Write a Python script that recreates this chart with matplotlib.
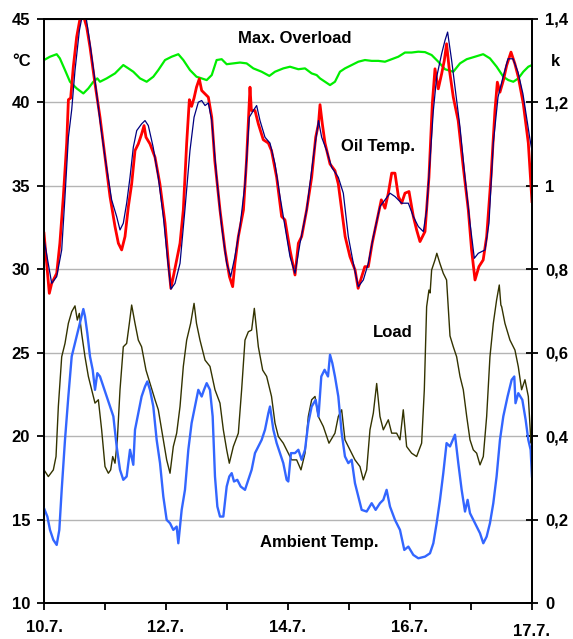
import matplotlib
matplotlib.use("Agg")
import matplotlib.pyplot as plt
from matplotlib.transforms import ScaledTranslation

plt.rcParams['font.family'] = ['Liberation Sans', 'DejaVu Sans']
plt.rcParams['font.weight'] = 'bold'

# ---- data (x in tick units, 0 = 10.7., 8 = 17.7.) ----
oil_t = [0, 0.087, 0.126, 0.208, 0.26, 0.317, 0.372, 0.4, 0.437, 0.48, 0.535, 0.59, 0.645, 0.7, 0.754,
         0.836, 0.918, 1.0, 1.082, 1.164, 1.219, 1.273, 1.328, 1.383, 1.437, 1.492, 1.546, 1.601, 1.64,
         1.672, 1.738, 1.82, 1.9, 1.984, 2.04, 2.08, 2.12, 2.175, 2.23, 2.284, 2.339, 2.383, 2.42, 2.46,
         2.5, 2.546, 2.585, 2.64, 2.694, 2.75, 2.8, 2.885, 2.967, 3.04, 3.093, 3.13, 3.186, 3.27, 3.32,
         3.377, 3.4, 3.459, 3.514, 3.595, 3.678, 3.73, 3.814, 3.896, 3.95, 4.033, 4.115, 4.17, 4.224,
         4.306, 4.388, 4.454, 4.5, 4.525, 4.563, 4.607, 4.689, 4.77, 4.825, 4.88, 4.937, 5.016, 5.1,
         5.15, 5.208, 5.26, 5.317, 5.38, 5.45, 5.53, 5.59, 5.645, 5.7, 5.754, 5.81, 5.863, 5.918, 5.984,
         6.055, 6.109, 6.164, 6.246, 6.311, 6.366, 6.41, 6.464, 6.519, 6.563, 6.6, 6.64, 6.71, 6.79,
         6.874, 6.956, 7.01, 7.066, 7.13, 7.2, 7.257, 7.328, 7.393, 7.432, 7.475, 7.53, 7.585, 7.656,
         7.72, 7.776, 7.858, 7.94, 8.0]
oil_meas = [32.15, 28.55, 29.15, 29.75, 31.55, 34.35, 37.55, 40.15, 40.25, 42.1, 43.9, 45.0, 45.2, 44.5,
            43.3, 41.1, 39.1, 36.7, 34.35, 32.55, 31.55, 31.15, 31.95, 33.75, 35.1, 37.1, 37.5, 38.1,
            38.6, 37.9, 37.5, 36.7, 35.1, 32.75, 30.35, 28.85, 29.55, 30.55, 31.55, 33.55, 37.55, 40.15,
            39.75, 40.25, 40.9, 41.4, 40.7, 40.5, 40.3, 39.1, 36.5, 33.55, 31.15, 29.55, 28.95, 30.35,
            31.95, 33.55, 36.5, 40.9, 39.5, 39.5, 38.7, 37.75, 37.55, 37.1, 35.5, 33.15, 32.95, 31.15,
            29.65, 31.55, 31.95, 33.55, 35.5, 37.9, 38.7, 39.85, 38.7, 37.55, 36.3, 35.9, 35.1, 33.55,
            31.95, 30.75, 29.95, 28.85, 29.55, 30.15, 30.15, 31.55, 32.75, 34.15, 33.65, 34.55, 35.75,
            35.75, 34.35, 33.95, 34.55, 34.65, 33.15, 32.35, 31.65, 32.25, 35.5, 39.9, 42.0, 40.8, 41.7,
            42.5, 43.5, 42.1, 40.3, 38.9, 36.1, 33.55, 31.15, 29.35, 30.15, 30.55, 31.95, 35.5, 39.5,
            41.2, 40.6, 41.3, 42.2, 43.0, 42.3, 41.5, 39.9, 37.55, 34.05]

calc_t = [0, 0.126, 0.208, 0.29, 0.344, 0.4, 0.454, 0.508, 0.58, 0.634, 0.689, 0.754, 0.836, 0.918, 1.0,
          1.109, 1.191, 1.246, 1.3, 1.355, 1.41, 1.464, 1.52, 1.6, 1.656, 1.71, 1.79, 1.874, 1.956, 2.027,
          2.08, 2.148, 2.23, 2.31, 2.393, 2.46, 2.53, 2.585, 2.64, 2.694, 2.75, 2.83, 2.913, 2.995, 3.06,
          3.13, 3.213, 3.295, 3.366, 3.432, 3.486, 3.541, 3.623, 3.705, 3.787, 3.869, 3.978, 4.033, 4.115,
          4.197, 4.306, 4.415, 4.5, 4.552, 4.634, 4.716, 4.825, 4.907, 4.989, 5.071, 5.153, 5.235, 5.317,
          5.399, 5.508, 5.59, 5.672, 5.754, 5.863, 5.973, 6.055, 6.137, 6.219, 6.273, 6.328, 6.383, 6.437,
          6.519, 6.574, 6.617, 6.683, 6.738, 6.82, 6.902, 6.984, 7.055, 7.12, 7.23, 7.295, 7.366, 7.443,
          7.525, 7.607, 7.689, 7.771, 7.852, 7.962, 8.0]
oil_calc = [31.8, 29.15, 29.55, 31.15, 34.35, 37.9, 39.55, 41.9, 44.3, 45.3, 45.1, 43.5, 41.3, 38.9, 36.7,
            34.15, 33.15, 32.35, 32.75, 33.95, 35.5, 37.3, 38.3, 38.7, 38.9, 38.6, 37.3, 35.5, 33.15,
            30.55, 28.8, 29.15, 30.35, 33.55, 37.1, 39.1, 40.0, 40.1, 39.8, 39.95, 38.9, 35.5, 32.55,
            30.35, 29.55, 30.75, 32.55, 35.1, 39.1, 39.5, 39.8, 38.9, 37.9, 37.55, 36.3, 34.35, 31.95,
            30.75, 29.75, 31.55, 33.55, 36.7, 38.9, 37.9, 37.1, 36.1, 35.5, 34.55, 31.95, 30.35, 28.95,
            29.35, 30.35, 31.95, 33.75, 34.15, 34.55, 34.35, 33.95, 33.95, 33.15, 32.55, 32.25, 33.55,
            36.5, 39.5, 41.5, 42.9, 43.7, 44.2, 42.5, 40.9, 38.5, 35.5, 32.75, 30.65, 30.95, 31.15, 32.75,
            37.55, 40.3, 41.5, 42.6, 42.6, 41.8, 40.5, 37.9, 37.1]

ovl_t = [0, 0.098, 0.208, 0.26, 0.344, 0.426, 0.536, 0.645, 0.727, 0.809, 0.874, 0.918, 1.027, 1.164, 1.3,
         1.383, 1.464, 1.574, 1.683, 1.792, 1.874, 1.984, 2.093, 2.202, 2.284, 2.393, 2.5, 2.585, 2.667,
         2.75, 2.83, 2.913, 2.995, 3.104, 3.213, 3.322, 3.432, 3.568, 3.694, 3.787, 3.923, 4.033, 4.17,
         4.279, 4.388, 4.47, 4.525, 4.607, 4.689, 4.77, 4.852, 4.934, 5.044, 5.153, 5.262, 5.372, 5.481,
         5.59, 5.7, 5.809, 5.918, 6.027, 6.137, 6.246, 6.355, 6.464, 6.574, 6.71, 6.82, 6.93, 7.066, 7.2,
         7.311, 7.421, 7.53, 7.612, 7.694, 7.776, 7.858, 7.94, 8.0]
ovl_k = [1.301, 1.309, 1.315, 1.305, 1.277, 1.249, 1.233, 1.221, 1.233, 1.249, 1.257, 1.249, 1.257, 1.269,
         1.289, 1.281, 1.273, 1.257, 1.249, 1.261, 1.277, 1.301, 1.309, 1.315, 1.301, 1.277, 1.261, 1.257,
         1.253, 1.265, 1.301, 1.303, 1.291, 1.293, 1.295, 1.293, 1.281, 1.273, 1.263, 1.273, 1.281, 1.285,
         1.279, 1.281, 1.269, 1.265, 1.257, 1.249, 1.241, 1.249, 1.273, 1.281, 1.289, 1.297, 1.301, 1.299,
         1.299, 1.297, 1.303, 1.309, 1.319, 1.319, 1.321, 1.320, 1.313, 1.297, 1.279, 1.273, 1.293, 1.303,
         1.309, 1.315, 1.305, 1.285, 1.261, 1.253, 1.249, 1.257, 1.273, 1.285, 1.289]

load_t = [0, 0.071, 0.153, 0.197, 0.235, 0.29, 0.344, 0.399, 0.454, 0.508, 0.546, 0.579, 0.617, 0.672,
          0.727, 0.781, 0.836, 0.891, 0.945, 1.0, 1.055, 1.093, 1.126, 1.164, 1.202, 1.246, 1.3, 1.355,
          1.399, 1.437, 1.492, 1.546, 1.6, 1.672, 1.738, 1.82, 1.874, 1.956, 2.011, 2.066, 2.12, 2.175,
          2.23, 2.284, 2.339, 2.404, 2.46, 2.5, 2.557, 2.64, 2.721, 2.803, 2.885, 2.94, 2.995, 3.038,
          3.104, 3.186, 3.24, 3.295, 3.35, 3.404, 3.448, 3.514, 3.585, 3.65, 3.73, 3.787, 3.842, 3.923,
          4.005, 4.06, 4.142, 4.213, 4.279, 4.333, 4.388, 4.443, 4.497, 4.579, 4.672, 4.77, 4.825, 4.88,
          4.934, 5.016, 5.098, 5.18, 5.235, 5.29, 5.344, 5.399, 5.454, 5.508, 5.563, 5.645, 5.7, 5.781,
          5.836, 5.89, 5.945, 6.027, 6.109, 6.191, 6.235, 6.273, 6.311, 6.33, 6.355, 6.41, 6.44, 6.49,
          6.546, 6.6, 6.656, 6.71, 6.765, 6.82, 6.874, 6.93, 6.984, 7.038, 7.093, 7.148, 7.202, 7.257,
          7.311, 7.366, 7.42, 7.464, 7.49, 7.503, 7.557, 7.639, 7.721, 7.776, 7.83, 7.885, 7.94, 7.984, 8.0]
load_k = [0.319, 0.303, 0.319, 0.351, 0.471, 0.590, 0.622, 0.670, 0.698, 0.712, 0.678, 0.694, 0.646,
          0.590, 0.543, 0.511, 0.479, 0.487, 0.415, 0.327, 0.311, 0.319, 0.351, 0.335, 0.391, 0.511,
          0.614, 0.622, 0.670, 0.714, 0.670, 0.630, 0.614, 0.558, 0.526, 0.487, 0.463, 0.391, 0.343,
          0.311, 0.375, 0.407, 0.471, 0.567, 0.630, 0.670, 0.718, 0.670, 0.630, 0.582, 0.567, 0.511,
          0.479, 0.415, 0.367, 0.335, 0.375, 0.407, 0.511, 0.630, 0.650, 0.654, 0.706, 0.614, 0.558,
          0.543, 0.495, 0.431, 0.399, 0.383, 0.359, 0.343, 0.343, 0.319, 0.359, 0.447, 0.487, 0.495,
          0.447, 0.423, 0.383, 0.407, 0.447, 0.463, 0.391, 0.367, 0.343, 0.327, 0.295, 0.319, 0.415,
          0.455, 0.526, 0.447, 0.415, 0.439, 0.407, 0.407, 0.391, 0.463, 0.375, 0.359, 0.351, 0.383,
          0.511, 0.710, 0.750, 0.743, 0.798, 0.822, 0.838, 0.814, 0.790, 0.774, 0.640, 0.614, 0.590,
          0.543, 0.511, 0.447, 0.391, 0.367, 0.359, 0.331, 0.351, 0.447, 0.590, 0.670, 0.726, 0.762,
          0.714, 0.710, 0.670, 0.630, 0.606, 0.566, 0.511, 0.535, 0.495, 0.383, 0.399]

amb_t = [0, 0.055, 0.098, 0.153, 0.208, 0.251, 0.29, 0.344, 0.399, 0.454, 0.508, 0.563, 0.617, 0.645,
         0.672, 0.71, 0.754, 0.798, 0.836, 0.874, 0.918, 0.973, 1.027, 1.082, 1.137, 1.191, 1.246, 1.3,
         1.355, 1.41, 1.464, 1.492, 1.546, 1.6, 1.656, 1.694, 1.738, 1.792, 1.847, 1.902, 1.956, 2.011,
         2.066, 2.12, 2.175, 2.202, 2.257, 2.311, 2.366, 2.42, 2.475, 2.53, 2.585, 2.623, 2.667, 2.721,
         2.765, 2.803, 2.842, 2.885, 2.94, 2.995, 3.038, 3.077, 3.115, 3.169, 3.224, 3.295, 3.35, 3.404,
         3.459, 3.514, 3.568, 3.623, 3.678, 3.705, 3.76, 3.814, 3.869, 3.923, 3.978, 4.005, 4.049, 4.115,
         4.17, 4.224, 4.279, 4.333, 4.388, 4.454, 4.5, 4.546, 4.6, 4.656, 4.689, 4.727, 4.77, 4.825,
         4.88, 4.934, 4.989, 5.044, 5.098, 5.153, 5.208, 5.29, 5.372, 5.437, 5.508, 5.563, 5.617, 5.672,
         5.754, 5.836, 5.907, 5.973, 6.055, 6.137, 6.246, 6.328, 6.383, 6.437, 6.492, 6.546, 6.6, 6.656,
         6.738, 6.792, 6.847, 6.902, 6.945, 6.984, 7.038, 7.093, 7.148, 7.202, 7.257, 7.311, 7.366,
         7.42, 7.475, 7.53, 7.6, 7.667, 7.71, 7.73, 7.776, 7.842, 7.896, 7.94, 7.978, 8.0]
amb_T = [15.68, 15.18, 14.38, 13.78, 13.48, 14.38, 16.78, 19.77, 22.37, 24.77, 25.57, 26.37, 27.17, 27.61,
         27.17, 26.17, 24.77, 23.97, 22.77, 23.77, 23.57, 22.97, 22.37, 21.77, 21.18, 19.38, 17.98, 17.38,
         17.58, 19.18, 18.28, 20.38, 21.37, 22.37, 22.97, 23.27, 22.77, 21.77, 19.77, 18.38, 16.38, 14.98,
         14.78, 14.38, 14.58, 13.58, 15.58, 16.78, 19.18, 20.78, 21.77, 22.77, 22.37, 22.77, 23.17, 22.77,
         21.18, 17.58, 15.78, 15.18, 15.18, 16.98, 17.58, 17.78, 17.28, 17.38, 16.98, 16.78, 17.38, 17.98,
         18.98, 19.38, 19.77, 20.38, 21.37, 21.77, 20.38, 19.58, 18.98, 18.38, 17.38, 17.28, 18.98, 18.98,
         19.18, 18.58, 19.18, 20.78, 21.77, 22.17, 21.18, 23.57, 23.97, 23.57, 24.87, 24.37, 23.57, 22.37,
         20.18, 18.78, 18.38, 18.58, 17.18, 16.38, 15.58, 15.48, 15.98, 15.58, 15.98, 16.18, 16.78, 15.78,
         14.98, 14.38, 13.18, 13.38, 12.88, 12.68, 12.78, 12.98, 13.58, 14.78, 16.18, 17.78, 19.58, 19.38,
         20.08, 18.38, 16.78, 15.48, 16.18, 15.38, 14.98, 14.58, 14.18, 13.58, 13.98, 14.78, 15.98,
         17.58, 19.77, 21.18, 22.37, 23.37, 23.57, 21.97, 22.57, 22.17, 20.98, 19.77, 19.18, 17.58]

x_ticks = [0, 1, 2, 3, 4, 5, 6, 7, 8]
x_labels = ['10.7.', '', '12.7.', '', '14.7.', '', '16.7.', '', '17.7.']
t_ticks = [10, 15, 20, 25, 30, 35, 40, 45]
k_ticks = [0, 0.2, 0.4, 0.6, 0.8, 1.0, 1.2, 1.4]
k_labels = ['0', '0,2', '0,4', '0,6', '0,8', '1', '1,2', '1,4']

FS = 12

fig = plt.figure(figsize=(5.73, 6.39), dpi=100)
ax = fig.add_axes([0.0768, 0.0563, 0.8516, 0.9144])
ax2 = ax.twinx()

# right axis (k) below the temperature axis
ax.set_zorder(ax2.get_zorder() + 1)
ax.patch.set_visible(False)

ax2.set_ylim(0, 1.4)
ax2.set_yticks(k_ticks)
ax2.set_yticklabels(k_labels)
ax2.yaxis.grid(True, color='#b4b4b4', lw=1)
ax2.set_axisbelow(True)
ax2.plot(ovl_t, ovl_k, color='#00ee00', lw=1.6)
ax2.plot(load_t, load_k, color='#333300', lw=1.0)

ax.plot(amb_t, amb_T, color='#3366ff', lw=1.7)
ax.plot(oil_t, oil_meas, color='#ff0000', lw=2.0)
ax.plot(calc_t, oil_calc, color='#000080', lw=0.9)

ax.set_xlim(0, 8)
ax.set_ylim(10, 45)
ax.set_yticks(t_ticks)
ax.set_xticks(x_ticks)
ax.set_xticklabels(x_labels)

for a in (ax, ax2):
    for s in a.spines.values():
        s.set_color('black')
        s.set_linewidth(1.3)

ax.tick_params(axis='y', direction='out', length=5, width=1.3, pad=5, labelsize=FS)
ax.tick_params(axis='x', direction='out', length=5, width=1.3, pad=7, labelsize=FS)
ax2.tick_params(axis='y', direction='inout', length=9, width=1.3, pad=5, labelsize=FS)

# last date label sits a bit lower
last = ax.get_xticklabels()[-1]
last.set_transform(last.get_transform() + ScaledTranslation(0, -3 / 72, fig.dpi_scale_trans))

ax.text(-0.045, 0.926, '°C', transform=ax.transAxes, ha='center', va='center', fontsize=FS, fontweight='bold')
ax.text(1.049, 0.926, 'k', transform=ax.transAxes, ha='center', va='center', fontsize=FS, fontweight='bold')

ax.text(4.11, 43.84, 'Max. Overload', ha='center', va='center', fontsize=FS, fontweight='bold')
ax.text(5.48, 37.37, 'Oil Temp.', ha='center', va='center', fontsize=FS, fontweight='bold')
ax.text(5.72, 26.18, 'Load', ha='center', va='center', fontsize=FS, fontweight='bold')
ax.text(4.52, 13.6, 'Ambient Temp.', ha='center', va='center', fontsize=FS, fontweight='bold')

fig.savefig('out.png', dpi=100)
